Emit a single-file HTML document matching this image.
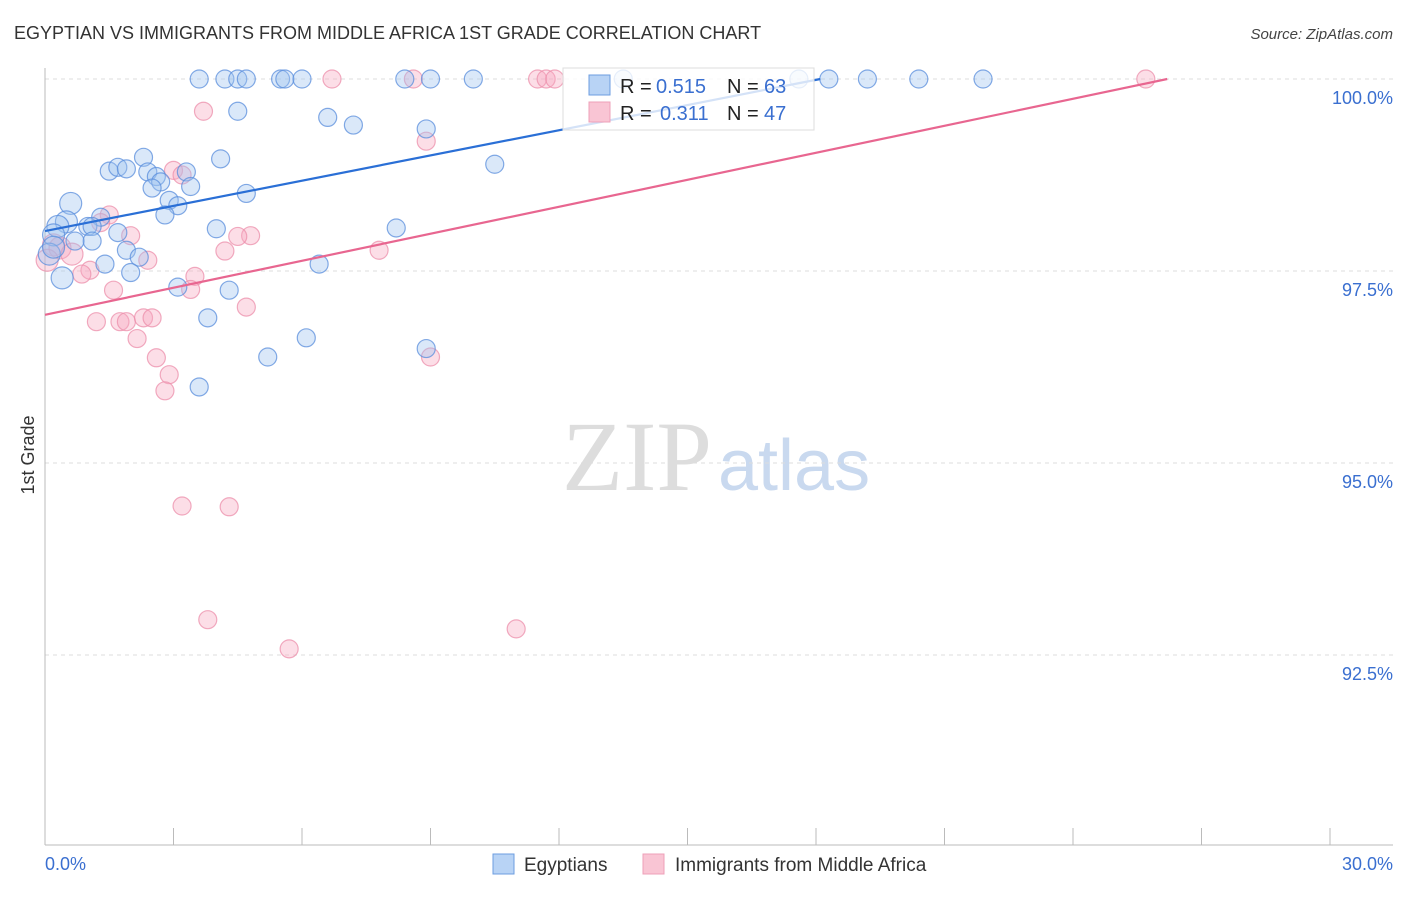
<!DOCTYPE html>
<html><head><meta charset="utf-8"><style>
body{margin:0;background:#fff;font-family:"Liberation Sans",sans-serif}
</style></head><body>
<svg id="chart" width="1406" height="892" xmlns="http://www.w3.org/2000/svg" font-family="Liberation Sans, sans-serif">
<text x="14" y="39" font-size="18" fill="#333">EGYPTIAN VS IMMIGRANTS FROM MIDDLE AFRICA 1ST GRADE CORRELATION CHART</text>
<text x="1393" y="39" font-size="15" fill="#444" text-anchor="end" font-style="italic">Source: ZipAtlas.com</text>
<g>
<text x="712" y="490" font-size="100" fill="#ddd" text-anchor="end" style="font-family:'Liberation Serif',serif">ZIP</text>
<text x="718" y="490" font-size="72" fill="#c9d9ef">atlas</text>
</g>
<g id="grid"></g>
<g id="axes"></g>
<g id="pts"></g>
<g id="lines"></g>
<g>
<rect x="563" y="68" width="251" height="62" fill="#fff" fill-opacity="0.8" stroke="#ddd"/>
<rect x="589" y="75" width="21" height="20" fill="#b8d3f5" stroke="#6c9ee0"/>
<rect x="589" y="102" width="21" height="20" fill="#f9c5d4" stroke="#eea0b8"/>
<text x="620" y="93" font-size="20" fill="#222">R =</text>
<text x="656" y="93" font-size="20" fill="#3a6fd0">0.515</text>
<text x="727" y="93" font-size="20" fill="#222">N =</text>
<text x="764" y="93" font-size="20" fill="#3a6fd0">63</text>
<text x="620" y="120" font-size="20" fill="#222">R =</text>
<text x="660" y="120" font-size="20" fill="#3a6fd0">0.311</text>
<text x="727" y="120" font-size="20" fill="#222">N =</text>
<text x="764" y="120" font-size="20" fill="#3a6fd0">47</text>
</g>
<g>
<rect x="493" y="854" width="21" height="20" fill="#b8d3f5" stroke="#6c9ee0"/>
<text x="524" y="871" font-size="19" fill="#333">Egyptians</text>
<rect x="643" y="854" width="21" height="20" fill="#f9c5d4" stroke="#eea0b8"/>
<text x="675" y="871" font-size="19" fill="#333">Immigrants from Middle Africa</text>
</g>
<text transform="translate(34,455) rotate(-90)" font-size="18" fill="#333" text-anchor="middle">1st Grade</text>
</svg>
<script>
const blueX=[3.6,4.2,4.5,4.7,5.5,5.6,6.0,8.4,9.0,10.0,13.5,17.6,18.3,19.2,20.4,21.9,4.5,6.6,7.2,8.9,10.5,4.1,2.3,1.5,1.7,1.9,2.4,2.6,3.3,2.7,2.5,3.4,2.9,3.1,2.8,4.7,0.6,0.5,0.3,1.3,1.0,1.1,1.7,1.1,0.7,0.2,4.0,8.2,1.9,2.2,1.4,2.0,0.4,0.1,6.4,3.1,4.3,3.8,6.1,5.2,8.9,3.6,0.2];
const blueY=[100,100,100,100,100,100,100,100,100,100,100,100,100,100,100,100,99.58,99.5,99.4,99.35,98.89,98.96,98.98,98.8,98.85,98.83,98.79,98.73,98.79,98.66,98.58,98.6,98.42,98.35,98.23,98.51,98.38,98.14,98.08,98.2,98.08,98.08,98.0,97.89,97.89,97.97,98.05,98.06,97.77,97.68,97.59,97.48,97.41,97.72,97.59,97.29,97.25,96.89,96.63,96.38,96.49,95.99,97.81];
const pinkX=[6.7,8.6,11.5,11.7,11.9,25.7,3.7,8.9,3.0,3.2,1.5,1.3,2.0,4.8,4.5,4.2,7.8,0.2,0.35,0.63,0.05,1.05,0.86,2.4,3.5,3.4,1.6,4.7,1.2,1.75,1.9,2.3,2.5,2.15,2.6,2.9,2.8,9.0,3.2,4.3,3.8,5.7,11.0];
const pinkY=[100,100,100,100,100,100,99.58,99.19,98.81,98.75,98.23,98.13,97.96,97.96,97.95,97.76,97.77,97.84,97.8,97.72,97.64,97.51,97.46,97.64,97.43,97.26,97.25,97.03,96.84,96.84,96.84,96.89,96.89,96.62,96.37,96.15,95.94,96.38,94.44,94.43,92.96,92.58,92.84];
const blueLine=[[0,98.02],[18.1,100]];
const pinkLine=[[0,96.93],[26.2,100]];
const yTicks=[100,97.5,95,92.5];
const yTickLabels=["100.0%","97.5%","95.0%","92.5%"];
const xTicks=[0,3,6,9,12,15,18,21,24,27,30];
const X0=45,X1=1330,Y0=79,PYU=192/2.5;
const sx=v=>X0+(v/30)*(X1-X0);
const sy=v=>Y0+(100-v)*PYU;
const NS="http://www.w3.org/2000/svg";
function mk(tag,attrs,parent){const e=document.createElementNS(NS,tag);for(const k in attrs)e.setAttribute(k,attrs[k]);parent.appendChild(e);return e;}
const grid=document.getElementById('grid'),axes=document.getElementById('axes'),pts=document.getElementById('pts'),lines=document.getElementById('lines');
yTicks.forEach((t,i)=>{
 const l=mk('line',{x1:45,x2:1393,y1:sy(t),y2:sy(t),stroke:'#ddd','stroke-dasharray':'4,4'},grid);
 
 
 const tx=mk('text',{x:1393,y:sy(t)+25,'font-size':18,fill:'#3a6fd0','text-anchor':'end'},grid);
 tx.textContent=yTickLabels[i];
 
 
});
const ya=mk('line',{x1:45,x2:45,y1:68,y2:845,stroke:'#bbb'},axes);


const xa=mk('line',{x1:45,x2:1393,y1:845,y2:845,stroke:'#bbb'},axes);


xTicks.forEach(t=>{
 const l=mk('line',{x1:sx(t),x2:sx(t),y1:828,y2:845,stroke:'#bbb'},axes);
 
 
});
const xl0=mk('text',{x:45,y:870,'font-size':18,fill:'#3a6fd0'},axes);xl0.textContent='0.0%';


const xl1=mk('text',{x:1393,y:870,'font-size':18,fill:'#3a6fd0','text-anchor':'end'},axes);xl1.textContent='30.0%';


function dots(xs,ys,fill,stroke,name){
 xs.forEach((x,i)=>{
  const r=(x<0.7)?11:9;
  const c=mk('circle',{cx:sx(x),cy:sy(ys[i]),r:r,fill:fill,'fill-opacity':0.38,stroke:stroke,'stroke-opacity':0.75,'stroke-width':1.2},pts);
  
  
 });
}
dots(pinkX,pinkY,'#f6a9bf','#ec8fab','pink-point');
dots(blueX,blueY,'#9fc2ef','#5a8edc','blue-point');
const bl=mk('line',{x1:sx(blueLine[0][0]),y1:sy(blueLine[0][1]),x2:sx(blueLine[1][0]),y2:sy(blueLine[1][1]),stroke:'#2a6fd6','stroke-width':2.2},lines);


const pl=mk('line',{x1:sx(pinkLine[0][0]),y1:sy(pinkLine[0][1]),x2:sx(pinkLine[1][0]),y2:sy(pinkLine[1][1]),stroke:'#e86690','stroke-width':2.2},lines);


</script>
</body></html>
